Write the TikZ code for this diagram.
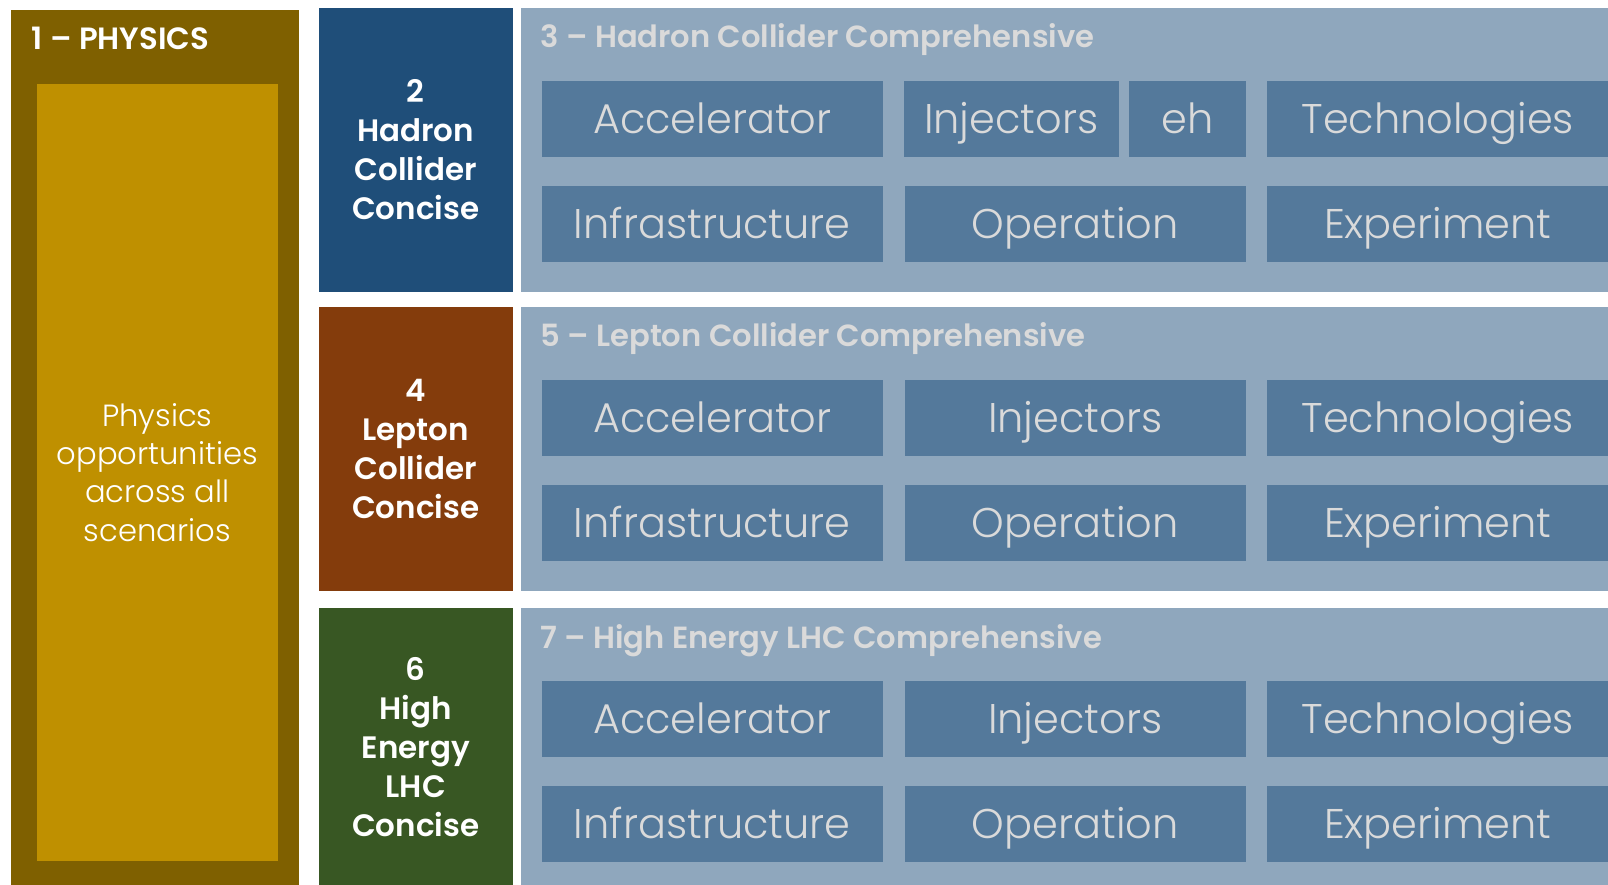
\documentclass[tikz,border=0pt]{standalone}
\usepackage{fontspec}
\setmainfont{Poppins}
\IfFontExistsTF{Poppins Light}{\newfontfamily\lightfont{Poppins Light}}{\newfontfamily\lightfont{Poppins}}
\IfFontExistsTF{Poppins SemiBold}{\newfontfamily\boldfont{Poppins SemiBold}}{\newcommand{\boldfont}{\bfseries}}
\definecolor{physdark}{HTML}{7F6000}
\definecolor{physgold}{HTML}{BF9000}
\definecolor{hadronblue}{HTML}{1F4E79}
\definecolor{leptonbrown}{HTML}{843C0C}
\definecolor{helhcgreen}{HTML}{385723}
\definecolor{panelgrey}{HTML}{8FA7BD}
\definecolor{subblue}{HTML}{54799B}
\definecolor{softgrey}{HTML}{DADADA}

\begin{document}
\begin{tikzpicture}[x=0.01cm, y=-0.01cm,
  panel/.style={fill=panelgrey, anchor=north west, inner sep=0, minimum width=10.88cm},
  subbox/.style={fill=subblue, text=softgrey, anchor=north west, inner sep=0,
    minimum height=0.76cm, text height=8.3pt, text depth=0pt,
    font=\lightfont\fontsize{11.8}{14}\selectfont},
  colbox/.style={anchor=north west, inner sep=0, minimum width=1.94cm, text=white,
    align=center, font=\boldfont\fontsize{8.8}{11.1}\selectfont},
  paneltitle/.style={anchor=base west, inner sep=0, text=softgrey,
    font=\boldfont\fontsize{8.7}{11}\selectfont}]
\useasboundingbox (0,0) rectangle (1608,885);

%PHYSICS
\node[fill=physdark, anchor=north west, inner sep=0, minimum width=2.88cm, minimum height=8.76cm] (physout) at (10,9) {};
\node[fill=physgold, anchor=north west, inner sep=0, minimum width=2.41cm, minimum height=7.77cm,
  text=white, align=center, font=\lightfont\fontsize{8.7}{10.9}\selectfont] (physin) at (36,83)
  {Physics\\opportunities\\across all\\scenarios};
\node[anchor=base west, inner sep=0, text=white, font=\boldfont\fontsize{8.75}{10}\selectfont] (phystitle) at (31,50) {1 – PHYSICS};

%HADRON COLLIDER
\node[colbox, fill=hadronblue, minimum height=2.84cm] (hcc) at (318,7) {2\\Hadron\\Collider\\Concise};
\node[panel, minimum height=2.84cm] (hcp) at (520,7) {};
\node[paneltitle] (hcptitle) at (540,48) {3 – Hadron Collider Comprehensive};
\node[subbox, minimum width=3.41cm] (hacc) at (541,80) {Accelerator};
\node[subbox, minimum width=2.15cm] (hinj) at (903,80) {Injectors};
\node[subbox, minimum width=1.17cm] (heh) at (1128,80) {eh};
\node[subbox, minimum width=3.42cm] (htech) at (1266,80) {Technologies};
\node[subbox, minimum width=3.41cm] (hinf) at (541,185) {Infrastructure};
\node[subbox, minimum width=3.41cm] (hop) at (904,185) {Operation};
\node[subbox, minimum width=3.42cm] (hexp) at (1266,185) {Experiment};

%LEPTON COLLIDER
\node[colbox, fill=leptonbrown, minimum height=2.84cm] (lcc) at (318,306) {4\\Lepton\\Collider\\Concise};
\node[panel, minimum height=2.84cm] (lcp) at (520,306) {};
\node[paneltitle] (lcptitle) at (540,347) {5 – Lepton Collider Comprehensive};
\node[subbox, minimum width=3.41cm] (lacc) at (541,379) {Accelerator};
\node[subbox, minimum width=3.41cm] (linj) at (904,379) {Injectors};
\node[subbox, minimum width=3.42cm] (ltech) at (1266,379) {Technologies};
\node[subbox, minimum width=3.41cm] (linf) at (541,484) {Infrastructure};
\node[subbox, minimum width=3.41cm] (lop) at (904,484) {Operation};
\node[subbox, minimum width=3.42cm] (lexp) at (1266,484) {Experiment};

%HIGH ENERGY LHC
\node[colbox, fill=helhcgreen, minimum height=2.78cm] (hec) at (318,607) {6\\High\\Energy\\LHC\\Concise};
\node[panel, minimum height=2.78cm] (hep) at (520,607) {};
\node[paneltitle] (heptitle) at (540,648) {7 – High Energy LHC Comprehensive};
\node[subbox, minimum width=3.41cm] (eacc) at (541,680) {Accelerator};
\node[subbox, minimum width=3.41cm] (einj) at (904,680) {Injectors};
\node[subbox, minimum width=3.42cm] (etech) at (1266,680) {Technologies};
\node[subbox, minimum width=3.41cm] (einf) at (541,785) {Infrastructure};
\node[subbox, minimum width=3.41cm] (eop) at (904,785) {Operation};
\node[subbox, minimum width=3.42cm] (eexp) at (1266,785) {Experiment};
\end{tikzpicture}
\end{document}
